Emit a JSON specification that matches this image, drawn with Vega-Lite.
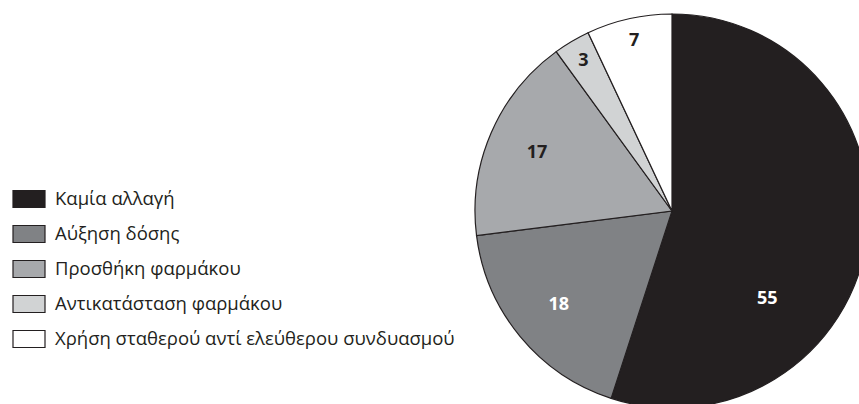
{
  "$schema": "https://vega.github.io/schema/vega-lite/v6.json",
  "width": 394,
  "height": 394,
  "autosize": {"type": "none"},
  "padding": {"left": 475, "top": 14, "right": -10, "bottom": -4},
  "background": "white",
  "view": {"stroke": null},
  "data": {
    "values": [
      {"category": "Καμία αλλαγή", "value": 55, "order": 1},
      {"category": "Αύξηση δόσης", "value": 18, "order": 2},
      {"category": "Προσθήκη φαρμάκου", "value": 17, "order": 3},
      {"category": "Αντικατάσταση φαρμάκου", "value": 3, "order": 4},
      {"category": "Χρήση σταθερού αντί ελεύθερου συνδυασμού", "value": 7, "order": 5}
    ]
  },
  "encoding": {
    "theta": {"field": "value", "type": "quantitative", "stack": true},
    "order": {"field": "order", "type": "quantitative"}
  },
  "layer": [
    {
      "mark": {"type": "arc", "stroke": "#231f20", "strokeWidth": 1.2},
      "encoding": {
        "color": {
          "field": "category",
          "type": "nominal",
          "sort": null,
          "scale": {
            "domain": ["Καμία αλλαγή", "Αύξηση δόσης", "Προσθήκη φαρμάκου", "Αντικατάσταση φαρμάκου", "Χρήση σταθερού αντί ελεύθερου συνδυασμού"],
            "range": ["#231f20", "#808285", "#a7a9ac", "#d1d3d4", "#ffffff"]
          },
          "legend": {
            "orient": "none",
            "legendX": -463,
            "legendY": 168,
            "title": null,
            "padding": 0,
            "symbolType": "M-1,-0.53H1V0.53H-1Z",
            "symbolSize": 1024,
            "symbolStrokeColor": "#231f20",
            "symbolStrokeWidth": 1.2,
            "symbolOpacity": 1,
            "labelFont": "Open Sans",
            "labelFontSize": 18.5,
            "labelColor": "#231f20",
            "labelOffset": 9,
            "labelLimit": 0,
            "rowPadding": 7
          }
        }
      }
    },
    {
      "mark": {"type": "text", "radius": 147, "font": "Open Sans", "fontWeight": "bold", "fontSize": 18},
      "encoding": {
        "text": {"condition": {"test": "datum.value >= 10 && datum.value < 50", "field": "value", "type": "quantitative"}, "value": ""},
        "color": {"condition": {"test": "datum.value == 18", "value": "#ffffff"}, "value": "#231f20"}
      }
    },
    {
      "mark": {"type": "text", "radius": 174, "font": "Open Sans", "fontWeight": "bold", "fontSize": 18, "color": "#231f20"},
      "encoding": {
        "text": {"condition": {"test": "datum.value < 10", "field": "value", "type": "quantitative"}, "value": ""}
      }
    },
    {
      "mark": {"type": "text", "radius": 130, "thetaOffset": 0.59, "font": "Open Sans", "fontWeight": "bold", "fontSize": 18, "color": "#ffffff"},
      "encoding": {
        "text": {"condition": {"test": "datum.value >= 50", "field": "value", "type": "quantitative"}, "value": ""}
      }
    }
  ]
}
